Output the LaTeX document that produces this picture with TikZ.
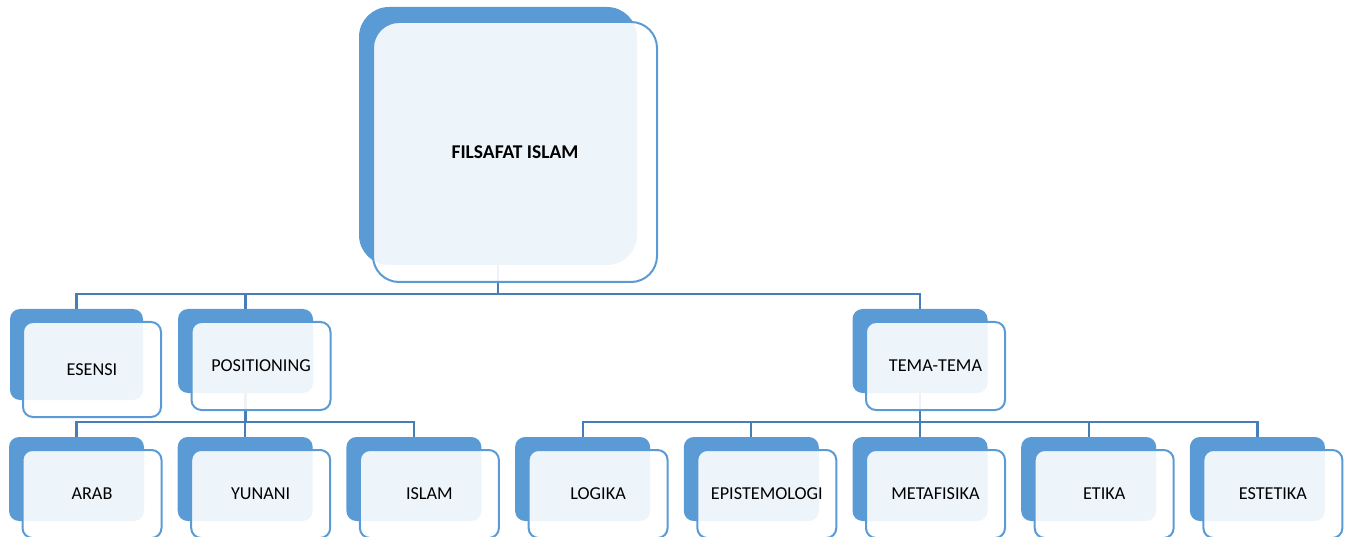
\documentclass[tikz,border=0pt]{standalone}
\usepackage{fontspec}
\setmainfont{Carlito}
\usepackage{tikz}
\usetikzlibrary{positioning,backgrounds}

\definecolor{birumuda}{RGB}{91,155,213}
\definecolor{birugaris}{RGB}{72,126,184}

% back block + front block, front is shifted right/down
\newcommand{\kotak}[4]{%
	\node (#1B) at (#2,#3) [belakang] {};
	\node (#1) at ([xshift=15.5pt,yshift=-15pt]#1B.center) [depan] {#4};}

\begin{document}
\begin{tikzpicture}[x=1pt, y=-1pt,
	belakang/.style={rectangle, fill=birumuda, rounded corners=10pt, minimum width=135pt, minimum height=84pt, inner sep=0pt},
	depan/.style={rectangle, draw=birumuda, line width=2pt, fill=white, fill opacity=0.9, text opacity=1, rounded corners=10pt, minimum width=139pt, minimum height=88pt, inner sep=0pt, font=\fontsize{18.2}{21}\selectfont},
	garis/.style={draw=birugaris, line width=2.2pt}]
	\useasboundingbox (0,0) rectangle (1352,537);

	% puncak
	\node (utamaB) at (498,136) [belakang, minimum width=278pt, minimum height=258pt, rounded corners=30pt] {};
	\node (utama) at ([xshift=17pt,yshift=-16pt]utamaB.center) [depan, minimum width=284pt, minimum height=260pt, rounded corners=26pt, font=\fontsize{19.5}{22}\selectfont\bfseries] {FILSAFAT ISLAM};

	% tingkat 1
	\node (esensiB) at (76.5,354.5) [belakang, minimum width=133pt, minimum height=91pt] {};
	\node (esensi) at ([xshift=15.5pt,yshift=-15pt]esensiB.center) [depan, minimum width=138pt, minimum height=95pt] {ESENSI};
	\kotak{pos}{245.5}{351}{POSITIONING}
	\kotak{tema}{920}{351}{TEMA-TEMA}

	% tingkat 2
	\kotak{arab}{76.5}{479}{ARAB}
	\kotak{yunani}{245.2}{479}{YUNANI}
	\kotak{islam}{413.9}{479}{ISLAM}
	\kotak{logika}{582.6}{479}{LOGIKA}
	\kotak{episte}{751.3}{479}{EPISTEMOLOGI}
	\kotak{meta}{920}{479}{METAFISIKA}
	\kotak{etika}{1088.7}{479}{ETIKA}
	\kotak{estetika}{1257.4}{479}{ESTETIKA}

	\coordinate (bar1) at ([yshift=15pt]esensiB.north);
	\coordinate (bar2) at ([yshift=15pt]arabB.north);

	\begin{scope}[on background layer]
		\draw[garis] (esensiB.north) -- (bar1) -| (temaB.north);
		\draw[garis] (utamaB.center) -- (utamaB.center |- bar1);
		\draw[garis] (posB.north) -- (posB.north |- bar1);

		\draw[garis] (arabB.north) -- (bar2) -| (islamB.north);
		\draw[garis] (posB.center) -- (posB.center |- bar2);
		\draw[garis] (yunaniB.north) -- (yunaniB.north |- bar2);

		\draw[garis] (logikaB.north) -- (logikaB.north |- bar2) -| (estetikaB.north);
		\draw[garis] (temaB.center) -- (temaB.center |- bar2);
		\draw[garis] (episteB.north) -- (episteB.north |- bar2);
		\draw[garis] (metaB.north) -- (metaB.north |- bar2);
		\draw[garis] (etikaB.north) -- (etikaB.north |- bar2);
	\end{scope}
\end{tikzpicture}
\end{document}
